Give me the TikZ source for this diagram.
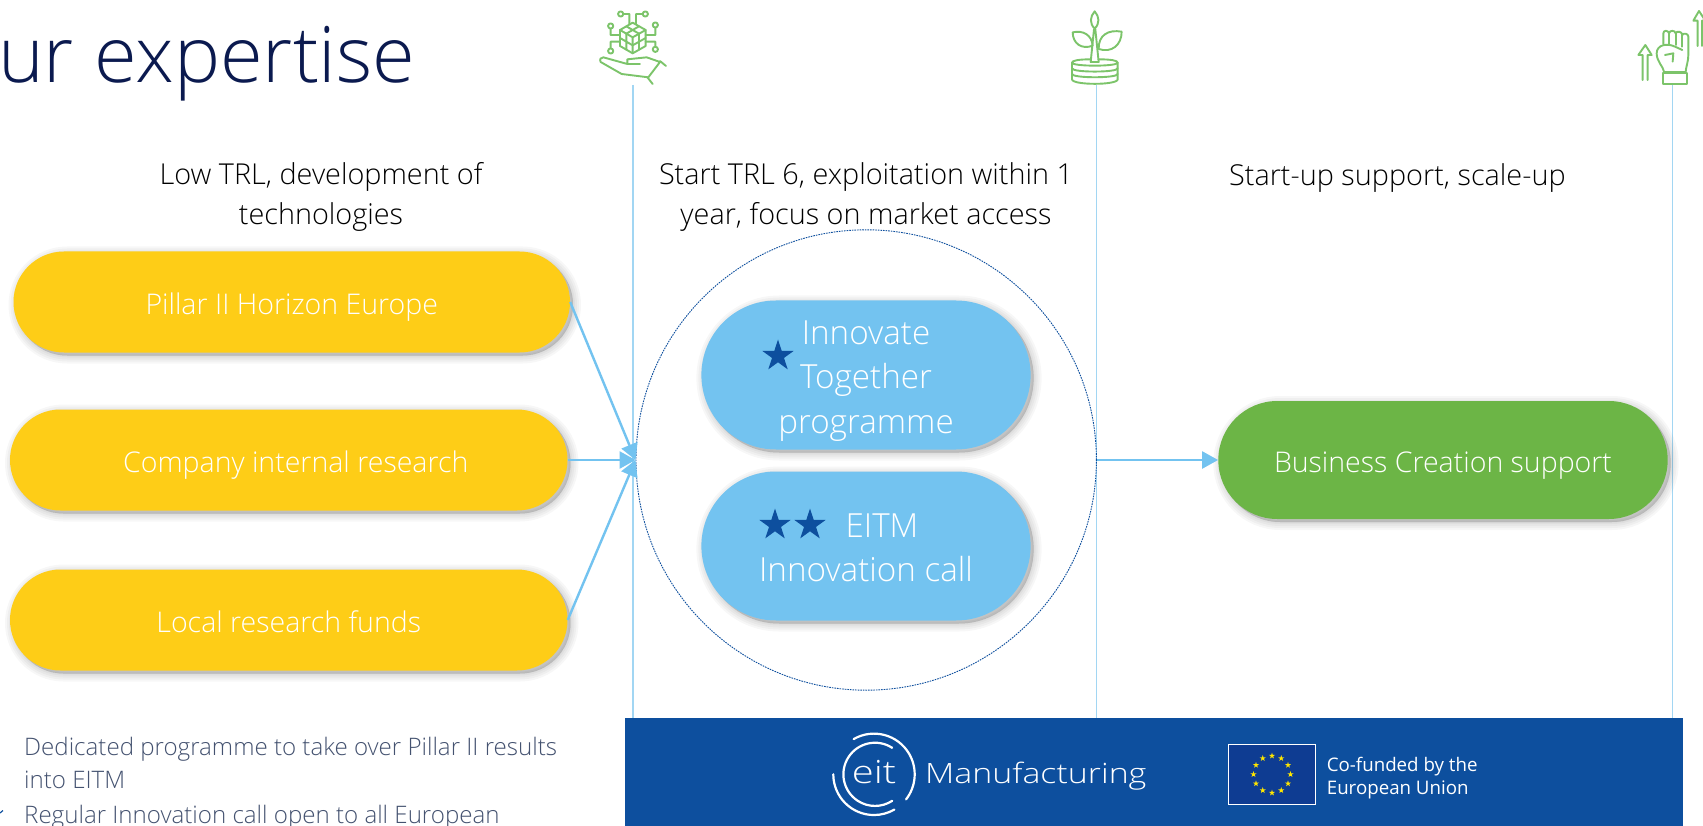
\documentclass[tikz,border=0pt]{standalone}
\usepackage{fontspec}
\setmainfont{Open Sans}
\newfontfamily\lightface{Open Sans Light}
\usetikzlibrary{arrows.meta,shapes.geometric,shapes.misc}
\definecolor{navy}{HTML}{0B1A4F}
\definecolor{pillyellow}{HTML}{FECD17}
\definecolor{pillblue}{HTML}{73C3F0}
\definecolor{pillgreen}{HTML}{6CB546}
\definecolor{bandblue}{HTML}{0D4F9E}
\definecolor{iconeg}{HTML}{7CC46A}
\definecolor{rule}{HTML}{A2D6F3}
\definecolor{slate}{HTML}{445270}
\definecolor{flagblue}{HTML}{0E3C92}
\definecolor{flagstar}{HTML}{FFE600}
\newcommand{\lowered}[2]{\raisebox{-#1pt}[0pt][0pt]{#2}}
\tikzset{
  x=1pt,y=-1pt,
  shadelayer/.style={preaction={draw=black,fill=black,draw opacity=.03,fill opacity=.03,line width=#1,
      transform canvas={xshift=3pt,yshift=-3pt}}},
  softshade/.style={shadelayer=16pt,shadelayer=12pt,shadelayer=8pt,shadelayer=4pt,shadelayer=1pt},
  pill/.style={rounded rectangle,rounded rectangle arc length=180,inner sep=0pt,text=white,
     font=\lightface\fontsize{28.5}{34}\selectfont,softshade},
  head/.style={align=center,text=black,font=\lightface\fontsize{28.8}{39.5}\selectfont,inner sep=0pt},
  rulev/.style={draw=rule,line width=1.4pt},
  flow/.style={draw=pillblue,line width=2.4pt,-{Triangle[length=16pt,width=17pt]},shorten >=0pt},
  bstar/.style={star,star points=5,star point ratio=2.618,fill=bandblue,draw=none,inner sep=0pt,minimum size=33pt},
  ystar/.style={star,star points=5,star point ratio=2.618,fill=flagstar,draw=none,inner sep=0pt,minimum size=6.5pt},
  icon/.style={draw=iconeg,line width=1.9pt,line cap=round,line join=round},
  iconscale/.style={x=0.3333pt,y=-0.3333pt},
  foot/.style={anchor=west,text=slate,font=\lightface\fontsize{24.1}{32}\selectfont,inner sep=0pt},
  whitearc/.style={draw=white,line width=2.2pt,line cap=round}
}
\begin{document}
\begin{tikzpicture}
\useasboundingbox (0,0) rectangle (1703,826);
\fill[white] (0,0) rectangle (1703,826);

% title
\node[anchor=base west,inner sep=0pt,text=navy,font=\lightface\fontsize{77.6}{96}\selectfont] (title) at (-2,83) {ur expertise};

% vertical rules
\coordinate (r1t) at (633,85); \coordinate (r1b) at (633,718);
\coordinate (r2t) at (1096.5,85); \coordinate (r2b) at (1096.5,718);
\coordinate (r3t) at (1672.6,85); \coordinate (r3b) at (1672.6,718);
\draw[rulev] (r1t) -- (r1b);
\draw[rulev] (r2t) -- (r2b);
\draw[rulev] (r3t) -- (r3b);

% column headers
\node[head] (h1) at (321,197) {Low TRL, development of\\technologies};
\node[head] (h2) at (866,197) {Start TRL 6, exploitation within 1\\year, focus on market access};
\node[head] (h3) at (1397.4,178) {Start-up support, scale-up};

% hub circle
\node[circle,minimum size=460.4pt,inner sep=0pt,draw=bandblue,line width=0.9pt,dash pattern=on 1.6pt off 1pt] (hub) at (866.2,460) {};

% left pills
\node[pill,fill=pillyellow,minimum width=556.5pt,minimum height=101pt] (p1) at (291.75,302) {\lowered{12.7}{Pillar II Horizon Europe}};
\node[pill,fill=pillyellow,minimum width=557.5pt,minimum height=101pt] (p2) at (288.75,460) {\lowered{12.7}{\hspace*{14pt}Company internal research}};
\node[pill,fill=pillyellow,minimum width=557.5pt,minimum height=101pt] (p3) at (288.75,620) {\lowered{12.2}{Local research funds}};

% centre pills
\node[pill,fill=pillblue,minimum width=329.2pt,minimum height=149pt,align=center,font=\lightface\fontsize{33.2}{44.5}\selectfont] (c1) at (866,375) {\\[-9pt]Innovate\\Together\\programme};
\node[pill,fill=pillblue,minimum width=329.2pt,minimum height=149pt,align=center,font=\lightface\fontsize{33.2}{44.5}\selectfont] (c2) at (866,546) {\\[-17pt]\hspace*{32pt}EITM\\Innovation call};
\node[bstar] (s1) at (778,356) {};
\node[bstar] (s2) at (775,525) {};
\node[bstar] (s3) at (810,525) {};

% right pill
\node[pill,fill=pillgreen,minimum width=449.4pt,minimum height=118pt] (g) at (1443,460) {\lowered{12.5}{Business Creation support}};

% connectors
\draw[flow] (p1.east) -- (hub.west);
\draw[flow] (p2.east) -- (hub.west);
\draw[flow] (p3.east) -- (hub.west);
\draw[flow] (hub.east) -- (g.west);

% footnotes
\node[foot] (f1) at (24,749) {Dedicated programme to take over Pillar II results};
\node[foot] (f2) at (24,780) {into EITM};
\node[foot] (f3) at (24,817) {Regular Innovation call open to all European};
\draw[draw=bandblue,line width=1.2pt] (0,813) -- (3,810.5);

% band
\fill[bandblue] (625,718) rectangle (1683,826);

% eit logo
\begin{scope}[shift={(800,720)},iconscale]
 \draw[whitearc] ([shift={(225,163)}]57:31.6pt) arc[start angle=57,end angle=303,radius=31.6pt];
 \draw[whitearc] ([shift={(222,163)}]120:40.7pt) arc[start angle=120,end angle=-38,radius=40.7pt];
 \draw[whitearc] ([shift={(222,163)}]180:40.7pt) arc[start angle=180,end angle=300,radius=40.7pt];
 \node[anchor=base,inner sep=0pt,text=white,font=\lightface\fontsize{32}{32}\selectfont] (eit) at (222,190) {\scalebox{1.25}[1]{eit}};
 \node[anchor=west,inner sep=0pt,text=white,font=\lightface\fontsize{28}{30}\selectfont] (mfg) at (375,168) {\scalebox{1.21}[1]{Manufacturing}};
\end{scope}

% EU flag
\begin{scope}[shift={(1200,720)},iconscale]
 \draw[fill=flagblue,draw=white,line width=1.6pt] (85,73) rectangle (347,253);
 \foreach \a in {0,30,...,330}
   \node[ystar] at ([shift={(216,163)}]\a:18.5pt) {};
 \node[anchor=west,inner sep=0pt,text=white,align=left,font=\fontsize{18.7}{23}\selectfont] (eu) at (380,173) {Co-funded by the\\European Union};
\end{scope}

% icon 1: cube in hand
\begin{scope}[shift={(580,0)},iconscale]
 \draw[icon] (158,68) -- (197,90) -- (197,138) -- (158,160) -- (120,138) -- (120,90) -- cycle;
 \draw[icon] (120,90) -- (158,112) -- (197,90) (158,112) -- (158,160);
 \draw[icon] (139,79) -- (177,101) (177,79) -- (139,101);
 \draw[icon] (120,114) -- (158,136) -- (197,114) (139,101) -- (139,149) (177,101) -- (177,149);
 \draw[icon] (122,42) circle[radius=2.6pt] (129,42) -- (148,42) -- (148,73);
 \draw[icon] (196,42) circle[radius=2.6pt] (189,42) -- (168,42) -- (168,73);
 \draw[icon] (92,78) circle[radius=2.6pt] (92,86) -- (92,105) -- (120,105);
 \draw[icon] (226,75) circle[radius=2.6pt] (226,83) -- (226,105) -- (197,105);
 \draw[icon] (92,153) circle[radius=2.6pt] (92,145) -- (92,125) -- (120,125);
 \draw[icon] (226,148) circle[radius=2.6pt] (226,140) -- (226,125) -- (197,125);
 \draw[icon] (180,192) -- (142,192) -- (142,178) -- (200,172) -- (240,186) -- (205,232) -- (125,222) -- (62,186) .. controls (58,178) and (62,172) .. (70,172) -- (142,192);
 \draw[icon] (240,183) -- (258,198) (203,233) -- (218,252);
\end{scope}

% icon 2: plant on coins
\begin{scope}[shift={(1050,0)},iconscale]
 \draw[icon] (134,34) .. controls (120,50) and (118,70) .. (134,86) .. controls (150,70) and (148,50) .. (134,34) -- cycle;
 \draw[icon] (122,186) -- (132,88) -- (136,88) -- (146,186) -- cycle;
 \draw[icon] (68,97) .. controls (100,90) and (125,105) .. (128,137) .. controls (95,150) and (68,130) .. (68,97) -- cycle;
 \draw[icon] (215,95) .. controls (175,88) and (145,105) .. (146,147) .. controls (185,160) and (215,135) .. (215,95) -- cycle;
 \draw[icon] (122,178) .. controls (85,178) and (66,182) .. (66,188) .. controls (66,200) and (203,200) .. (203,188) .. controls (203,182) and (185,178) .. (146,178);
 \draw[icon] (66,188) -- (66,238) .. controls (66,256) and (203,256) .. (203,238) -- (203,188);
 \draw[icon] (66,205) .. controls (66,218) and (203,218) .. (203,205);
 \draw[icon] (66,222) .. controls (66,235) and (203,235) .. (203,222);
\end{scope}

% icon 3: fist and arrows
\begin{scope}[shift={(1600,0)},iconscale]
 \draw[icon] (190,132) -- (190,100) .. controls (190,90) and (205,90) .. (207,100) .. controls (209,90) and (225,90) .. (227,100) .. controls (230,92) and (246,94) .. (247,105) .. controls (250,98) and (265,100) .. (265,110) -- (265,165) .. controls (265,185) and (258,200) .. (257,215);
 \draw[icon] (207,100) -- (207,135) (227,100) -- (227,135) (247,105) -- (247,140);
 \draw[icon] (192,215) .. controls (190,200) and (170,185) .. (170,160) .. controls (170,135) and (200,128) .. (225,140) -- (247,150);
 \draw[icon] (195,165) -- (220,160) -- (218,185);
 \draw[icon] (192,215) -- (257,215);
 \draw[icon] (190,218) rectangle (262,252);
 \draw[icon] (128,240) -- (128,165) -- (115,165) -- (136,135) -- (155,165) -- (143,165) -- (143,240);
 \draw[icon] (293,138) -- (293,62) -- (280,62) -- (297,33) -- (316,62) -- (306,62) -- (306,138);
\end{scope}
\end{tikzpicture}
\end{document}
